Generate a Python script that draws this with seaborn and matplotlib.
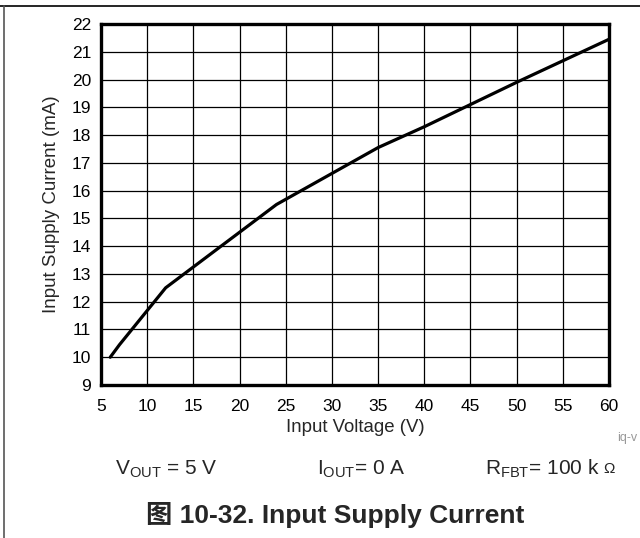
import matplotlib
matplotlib.use("Agg")
import matplotlib.pyplot as plt
from matplotlib.lines import Line2D
import seaborn as sns
import pandas as pd

# Data
vin = [6, 7, 12, 24, 35, 40, 45, 50, 60]
iq = [10.0, 10.45, 12.5, 15.5, 17.55, 18.3, 19.1, 19.9, 21.45]
xticks = [5, 10, 15, 20, 25, 30, 35, 40, 45, 50, 55, 60]
yticks = list(range(9, 23))
xlabel = "Input Voltage (V)"
ylabel = "Input Supply Current (mA)"
title = "图 10-32. Input Supply Current"

sns.set_style("white")
plt.rcParams["font.family"] = ["Liberation Sans", "Noto Sans CJK SC", "DejaVu Sans"]
plt.rcParams["mathtext.fontset"] = "custom"
plt.rcParams["mathtext.rm"] = "Liberation Sans"
plt.rcParams["mathtext.it"] = "Liberation Sans:italic"
plt.rcParams["mathtext.bf"] = "Liberation Sans:bold"

W, H = 640, 538
fig = plt.figure(figsize=(6.4, 5.38), dpi=100)
ax = fig.add_axes([101 / W, 1 - 385 / H, 508 / W, 361 / H])

df = pd.DataFrame({"vin": vin, "iq": iq})
sns.lineplot(data=df, x="vin", y="iq", ax=ax, color="black", linewidth=2.3)

ax.set_xlim(5, 60)
ax.set_ylim(9, 22)
ax.set_xticks(xticks)
ax.set_yticks(yticks)
ax.grid(True, color="black", linewidth=0.9)
ax.set_axisbelow(True)
for s in ax.spines.values():
    s.set_visible(True)
    s.set_color("black")
    s.set_linewidth(2.4)
ax.tick_params(axis="both", length=0, labelsize=12.5, colors="black")
ax.tick_params(axis="x", pad=10)
ax.tick_params(axis="y", pad=7)
ax.set_xlabel(xlabel, fontsize=13.4, labelpad=4)
ax.set_ylabel(ylabel, fontsize=13.5, labelpad=8.5)

# Conditions line
fig.text(166 / W, 1 - 475 / H, r"V$_{\mathrm{OUT}}$ = 5 V", ha="center", va="baseline", fontsize=15)
fig.text(361 / W, 1 - 475 / H, r"I$_{\mathrm{OUT}}$= 0 A", ha="center", va="baseline", fontsize=15)
fig.text(600 / W, 1 - 475 / H, r"R$_{\mathrm{FBT}}$= 100 k", ha="right", va="baseline", fontsize=15)
fig.text(603 / W, 1 - 473 / H, "Ω", ha="left", va="baseline", fontsize=11)
fig.text(637 / W, 1 - 438 / H, "iq-v", ha="right", va="center", fontsize=9, color="#999999")

fig.text(335 / W, 1 - 515 / H, title, ha="center", va="center", fontsize=19, fontweight="bold")

# Frame lines (top and left)
fig.add_artist(Line2D([0, 1], [1 - 6 / H, 1 - 6 / H], transform=fig.transFigure, color="black", linewidth=1.2))
fig.add_artist(Line2D([4 / W, 4 / W], [0, 1 - 6 / H], transform=fig.transFigure, color="#555555", linewidth=1.2))

fig.savefig("out.png", dpi=100)
